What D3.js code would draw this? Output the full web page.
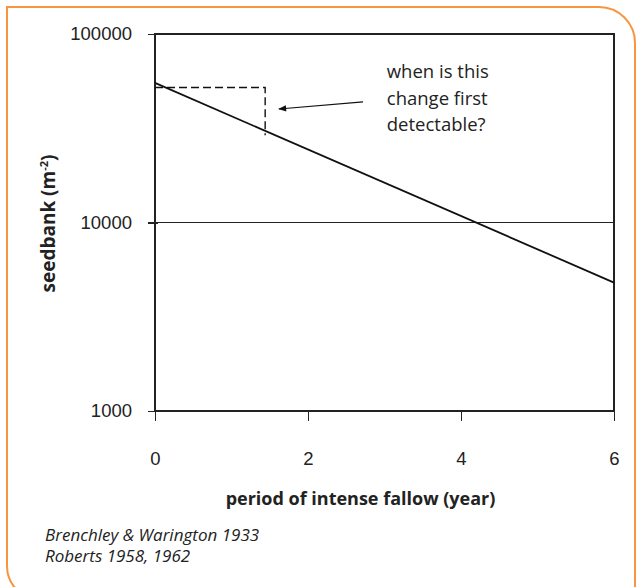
<!DOCTYPE html>
<meta charset="utf-8">
<style>
body { margin: 0; background: #fff; }
svg { font-family: "Open Sans", sans-serif; }
.axis path, .axis line { fill: none; stroke: #222; stroke-width: 1.3px; shape-rendering: crispEdges; }
.axis text { fill: #222; font-size: 18.5px; }
</style>
<body>
<script src="https://d3js.org/d3.v7.min.js"></script>
<script>

// fallow years vs seedbank (log scale)
var years = [0, 6];
var seedbank = [55000, 4800];
var xTicks = [0, 2, 4, 6];
var yTicks = [1000, 10000, 100000];
var gridLevels = [10000];

// the "when is this change first detectable?" box
var detectYear = 1.44;
var detectTop = 52000;
var detectBottom = 29000;
var arrowFrom = [2.72, 43600];
var arrowTo = [1.62, 40000];
var noteLines = ["when is this", "change first", "detectable?"];
var sources = ["Brenchley & Warington 1933", "Roberts 1958, 1962"];

var W = 637, H = 587;
var margin = {top: 34, right: 23, bottom: 176, left: 155},
    width = W - margin.left - margin.right,
    height = H - margin.top - margin.bottom;

var svg = d3.select("body").append("svg")
    .attr("width", W)
    .attr("height", H);

// orange frame: square top-left, rounded top-right and bottom-left
var fr = {l: 7, t: 7, r: 635, b: 600}, rTR = 36, rBL = 34;
svg.append("path")
    .attr("d", "M" + fr.l + "," + fr.t +
      " L" + (fr.r - rTR) + "," + fr.t +
      " A" + rTR + "," + rTR + " 0 0 1 " + fr.r + "," + (fr.t + rTR) +
      " L" + fr.r + "," + fr.b +
      " L" + (fr.l + rBL) + "," + fr.b +
      " A" + rBL + "," + rBL + " 0 0 1 " + fr.l + "," + (fr.b - rBL) + " Z")
    .attr("fill", "none")
    .attr("stroke", "#f7963f")
    .attr("stroke-width", 2);

var g = svg.append("g")
    .attr("transform", "translate(" + margin.left + "," + margin.top + ")");

var x = d3.scaleLinear().domain([0, 6]).range([0, width]);
var y = d3.scaleLog().domain([1000, 100000]).range([height, 0]);

// plot box
g.append("rect")
    .attr("width", width)
    .attr("height", height)
    .attr("fill", "none")
    .attr("stroke", "#222")
    .attr("stroke-width", 1.3)
    .attr("shape-rendering", "crispEdges");

g.selectAll(".grid")
    .data(gridLevels)
  .enter().append("line")
    .attr("class", "grid")
    .attr("x1", 0).attr("x2", width)
    .attr("y1", function(d) { return y(d); })
    .attr("y2", function(d) { return y(d); })
    .attr("stroke", "#222")
    .attr("stroke-width", 1.3)
    .attr("shape-rendering", "crispEdges");

var xAxis = d3.axisBottom(x).tickValues(xTicks).tickSize(10).tickPadding(31)
    .tickFormat(d3.format("d"));
var yAxis = d3.axisLeft(y).tickValues(yTicks).tickSize(6).tickPadding(17)
    .tickFormat(d3.format("d"));

g.append("g")
    .attr("class", "x axis")
    .attr("transform", "translate(0," + height + ")")
    .call(xAxis)
  .call(function(s) { s.select(".domain").remove(); });

g.append("g")
    .attr("class", "y axis")
    .call(yAxis)
  .call(function(s) { s.select(".domain").remove(); })
  .call(function(s) { s.selectAll(".tick line").attr("x2", 3).attr("x1", -7); });

// trend line
var pts = years.map(function(d, i) { return [d, seedbank[i]]; });
g.append("path")
    .datum(pts)
    .attr("fill", "none")
    .attr("stroke", "#111")
    .attr("stroke-width", 1.8)
    .attr("d", d3.line().x(function(d) { return x(d[0]); }).y(function(d) { return y(d[1]); }));

// dashed detection step
g.append("path")
    .attr("fill", "none")
    .attr("stroke", "#111")
    .attr("stroke-width", 1.4)
    .attr("stroke-dasharray", "8,4")
    .attr("d", d3.line()([[x(0), y(detectTop)], [x(detectYear), y(detectTop)], [x(detectYear), y(detectBottom)]]));

// arrow
svg.append("defs").append("marker")
    .attr("id", "head")
    .attr("viewBox", "0 0 10 10")
    .attr("refX", 9).attr("refY", 5)
    .attr("markerWidth", 9).attr("markerHeight", 8)
    .attr("markerUnits", "userSpaceOnUse")
    .attr("orient", "auto")
  .append("path")
    .attr("d", "M0,1 L10,5 L0,9 Z")
    .attr("fill", "#111");

g.append("line")
    .attr("x1", x(arrowFrom[0])).attr("y1", y(arrowFrom[1]))
    .attr("x2", x(arrowTo[0])).attr("y2", y(arrowTo[1]))
    .attr("stroke", "#111")
    .attr("stroke-width", 1.2)
    .attr("marker-end", "url(#head)");

g.append("text")
    .attr("y", y(65000) + 9)
    .attr("fill", "#222")
    .style("font-size", "18.5px")
  .selectAll("tspan")
    .data(noteLines)
  .enter().append("tspan")
    .attr("x", x(3.03))
    .attr("dy", function(d, i) { return i ? 26.5 : 0; })
    .text(function(d) { return d; });

// axis titles
g.append("text")
    .attr("x", width / 2 - 24)
    .attr("y", height + 94)
    .attr("text-anchor", "middle")
    .attr("fill", "#222")
    .style("font-size", "18px")
    .style("font-weight", "bold")
    .text("period of intense fallow (year)");

var yl = g.append("text")
    .attr("transform", "translate(-107," + (y(10000) + 1) + ") rotate(-90)")
    .attr("text-anchor", "middle")
    .attr("dy", "0.35em")
    .attr("fill", "#222")
    .style("font-size", "19px")
    .style("font-weight", "bold");
yl.append("tspan").text("seedbank (m");
yl.append("tspan").attr("dy", -7).style("font-size", "11px").text("-2");
yl.append("tspan").attr("dy", 7).text(")");

// sources
svg.append("text")
    .attr("y", 541)
    .attr("fill", "#222")
    .style("font-size", "17px")
    .style("font-style", "italic")
  .selectAll("tspan")
    .data(sources)
  .enter().append("tspan")
    .attr("x", 45)
    .attr("dy", function(d, i) { return i ? 21 : 0; })
    .text(function(d) { return d; });

</script>
